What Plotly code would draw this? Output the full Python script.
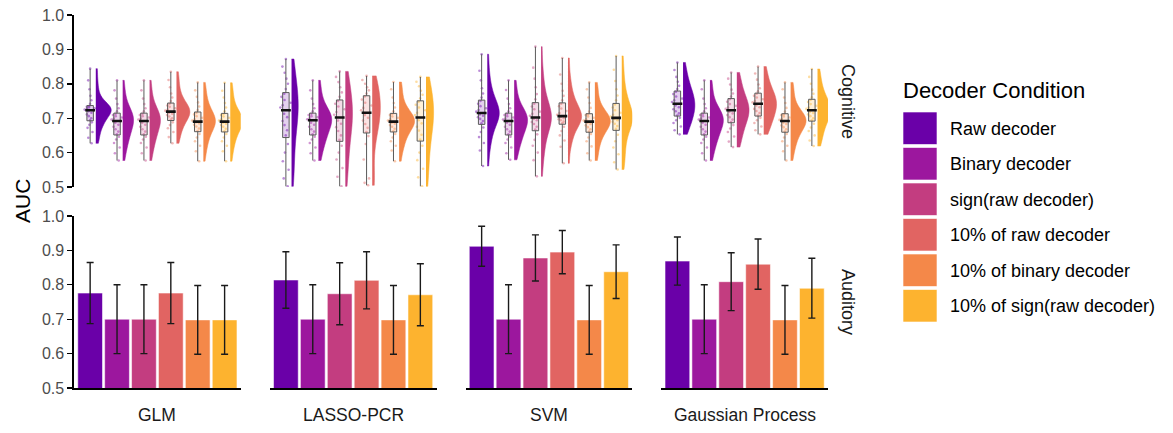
import numpy as np
import plotly.graph_objects as go
from plotly.subplots import make_subplots

# ---------------- data ----------------
models = ["GLM", "LASSO-PCR", "SVM", "Gaussian Process"]
conditions = ["Raw decoder", "Binary decoder", "sign(raw decoder)",
              "10% of raw decoder", "10% of binary decoder", "10% of sign(raw decoder)"]
rows_lab = ["Cognitive", "Auditory"]
y_ticks = [0.5, 0.6, 0.7, 0.8, 0.9, 1.0]

# Auditory: mean AUC and error (symmetric) per model, in condition order
aud_mean_glm = [0.776, 0.700, 0.700, 0.776, 0.698, 0.698]
aud_err_glm = [0.089, 0.100, 0.100, 0.089, 0.100, 0.100]
aud_mean_lasso = [0.814, 0.700, 0.774, 0.813, 0.698, 0.771]
aud_err_lasso = [0.082, 0.100, 0.090, 0.083, 0.100, 0.090]
aud_mean_svm = [0.912, 0.700, 0.878, 0.895, 0.698, 0.838]
aud_err_svm = [0.058, 0.100, 0.067, 0.063, 0.100, 0.078]
aud_mean_gp = [0.869, 0.700, 0.809, 0.860, 0.698, 0.790]
aud_err_gp = [0.070, 0.100, 0.084, 0.073, 0.100, 0.087]

# Cognitive: per-subject AUC samples (estimated from the figure), per model, in condition order
cog_glm = [
    [0.627, 0.643, 0.660, 0.672, 0.681, 0.688, 0.694, 0.700, 0.706, 0.711, 0.716, 0.720, 0.723,
     0.725, 0.727, 0.729, 0.731, 0.733, 0.735, 0.742, 0.752, 0.765, 0.784, 0.810, 0.844],
    [0.577, 0.598, 0.615, 0.628, 0.638, 0.646, 0.653, 0.661, 0.668, 0.675, 0.681, 0.687, 0.692,
     0.696, 0.699, 0.702, 0.706, 0.709, 0.713, 0.720, 0.729, 0.741, 0.757, 0.781, 0.810],
    [0.577, 0.598, 0.615, 0.628, 0.638, 0.646, 0.653, 0.661, 0.668, 0.675, 0.681, 0.687, 0.692,
     0.696, 0.699, 0.702, 0.706, 0.709, 0.713, 0.720, 0.729, 0.741, 0.757, 0.781, 0.810],
    [0.627, 0.645, 0.660, 0.671, 0.680, 0.688, 0.695, 0.700, 0.705, 0.709, 0.713, 0.716, 0.719,
     0.722, 0.725, 0.729, 0.733, 0.737, 0.742, 0.750, 0.760, 0.772, 0.790, 0.811, 0.835],
    [0.575, 0.604, 0.620, 0.633, 0.644, 0.654, 0.663, 0.670, 0.676, 0.681, 0.685, 0.688, 0.690,
     0.693, 0.697, 0.701, 0.706, 0.711, 0.716, 0.724, 0.734, 0.746, 0.762, 0.781, 0.804],
    [0.575, 0.604, 0.620, 0.633, 0.644, 0.654, 0.662, 0.669, 0.675, 0.680, 0.684, 0.687, 0.690,
     0.693, 0.697, 0.701, 0.705, 0.709, 0.712, 0.720, 0.731, 0.744, 0.760, 0.780, 0.803],
]
cog_lasso = [
    [0.502, 0.525, 0.550, 0.575, 0.600, 0.625, 0.650, 0.665, 0.680, 0.692, 0.703, 0.713, 0.723,
     0.731, 0.738, 0.745, 0.753, 0.762, 0.771, 0.785, 0.800, 0.815, 0.832, 0.850, 0.872],
    [0.577, 0.598, 0.615, 0.628, 0.638, 0.646, 0.653, 0.661, 0.668, 0.675, 0.681, 0.687, 0.694,
     0.697, 0.700, 0.703, 0.706, 0.709, 0.713, 0.720, 0.729, 0.741, 0.757, 0.781, 0.810],
    [0.502, 0.530, 0.555, 0.580, 0.600, 0.620, 0.637, 0.650, 0.663, 0.674, 0.684, 0.693, 0.702,
     0.710, 0.718, 0.726, 0.734, 0.742, 0.750, 0.762, 0.775, 0.790, 0.805, 0.820, 0.836],
    [0.505, 0.512, 0.525, 0.580, 0.625, 0.648, 0.660, 0.672, 0.683, 0.693, 0.701, 0.709, 0.716,
     0.723, 0.730, 0.737, 0.745, 0.754, 0.763, 0.772, 0.781, 0.790, 0.800, 0.811, 0.823],
    [0.575, 0.606, 0.620, 0.633, 0.644, 0.654, 0.662, 0.669, 0.675, 0.680, 0.684, 0.687, 0.690,
     0.693, 0.697, 0.701, 0.705, 0.709, 0.712, 0.720, 0.731, 0.744, 0.760, 0.784, 0.805],
    [0.502, 0.528, 0.553, 0.578, 0.600, 0.620, 0.638, 0.652, 0.664, 0.675, 0.685, 0.694, 0.702,
     0.709, 0.716, 0.723, 0.731, 0.739, 0.748, 0.758, 0.768, 0.780, 0.793, 0.806, 0.820],
]
cog_svm = [
    [0.561, 0.606, 0.628, 0.645, 0.660, 0.673, 0.685, 0.692, 0.698, 0.703, 0.707, 0.711, 0.715,
     0.719, 0.724, 0.729, 0.735, 0.742, 0.750, 0.760, 0.772, 0.787, 0.810, 0.838, 0.886],
    [0.579, 0.598, 0.615, 0.628, 0.638, 0.646, 0.653, 0.661, 0.668, 0.675, 0.681, 0.687, 0.692,
     0.696, 0.699, 0.702, 0.706, 0.709, 0.713, 0.720, 0.729, 0.741, 0.757, 0.782, 0.810],
    [0.531, 0.578, 0.600, 0.620, 0.637, 0.653, 0.667, 0.675, 0.683, 0.689, 0.694, 0.698, 0.702,
     0.707, 0.713, 0.719, 0.726, 0.734, 0.742, 0.755, 0.770, 0.790, 0.815, 0.847, 0.908],
    [0.569, 0.617, 0.635, 0.650, 0.663, 0.675, 0.685, 0.690, 0.694, 0.697, 0.700, 0.703, 0.706,
     0.710, 0.715, 0.721, 0.728, 0.735, 0.742, 0.752, 0.765, 0.780, 0.800, 0.827, 0.875],
    [0.577, 0.598, 0.618, 0.633, 0.644, 0.654, 0.661, 0.668, 0.674, 0.679, 0.683, 0.687, 0.690,
     0.693, 0.697, 0.701, 0.705, 0.709, 0.711, 0.719, 0.730, 0.744, 0.760, 0.784, 0.804],
    [0.551, 0.572, 0.595, 0.615, 0.633, 0.652, 0.669, 0.677, 0.684, 0.690, 0.694, 0.698, 0.701,
     0.705, 0.710, 0.716, 0.723, 0.731, 0.740, 0.752, 0.766, 0.784, 0.808, 0.841, 0.881],
]
cog_gp = [
    [0.653, 0.665, 0.676, 0.686, 0.694, 0.701, 0.708, 0.714, 0.720, 0.726, 0.732, 0.737, 0.742,
     0.747, 0.752, 0.757, 0.763, 0.770, 0.777, 0.785, 0.794, 0.806, 0.820, 0.840, 0.862],
    [0.577, 0.598, 0.615, 0.628, 0.638, 0.646, 0.653, 0.661, 0.668, 0.675, 0.681, 0.687, 0.692,
     0.696, 0.699, 0.702, 0.706, 0.709, 0.713, 0.720, 0.729, 0.741, 0.757, 0.784, 0.810],
    [0.616, 0.632, 0.647, 0.660, 0.670, 0.680, 0.689, 0.696, 0.703, 0.709, 0.714, 0.719, 0.723,
     0.727, 0.731, 0.736, 0.741, 0.748, 0.755, 0.763, 0.772, 0.783, 0.798, 0.815, 0.833],
    [0.653, 0.665, 0.676, 0.686, 0.694, 0.701, 0.708, 0.715, 0.721, 0.727, 0.732, 0.737, 0.742,
     0.746, 0.750, 0.755, 0.760, 0.765, 0.771, 0.778, 0.787, 0.798, 0.812, 0.830, 0.850],
    [0.577, 0.604, 0.620, 0.633, 0.644, 0.654, 0.661, 0.668, 0.674, 0.679, 0.683, 0.687, 0.692,
     0.695, 0.698, 0.702, 0.705, 0.709, 0.711, 0.719, 0.730, 0.744, 0.760, 0.784, 0.804],
    [0.619, 0.635, 0.650, 0.663, 0.673, 0.684, 0.694, 0.700, 0.706, 0.711, 0.715, 0.719, 0.723,
     0.727, 0.731, 0.736, 0.741, 0.747, 0.753, 0.761, 0.771, 0.783, 0.800, 0.820, 0.843],
]

# ---------------- style ----------------
colors = ["#6A00A8", "#9C179E", "#C33D80", "#E16462", "#F48849", "#FDB32F"]
FONT = "Liberation Sans, Arial, sans-serif"
W, H = 1173, 433
L, R, T, B = 74, 345, 15, 45
PW, PH = W - L - R, H - T - B


def px2x(px):
    return (px - L) / PW


def px2y(py):
    return (T + PH - py) / PH


def rgba(hexc, a):
    h = hexc.lstrip("#")
    return f"rgba({int(h[0:2],16)},{int(h[2:4],16)},{int(h[4:6],16)},{a})"


def kde_peak(vals):
    v = np.asarray(vals, dtype=float)
    n = len(v)
    q1, q3 = np.percentile(v, [25, 75])
    bw = 1.059 * min(v.std(ddof=1), (q3 - q1) / 1.349) * n ** (-0.2)
    grid = np.linspace(v.min(), v.max(), 300)
    dens = np.exp(-0.5 * ((grid[:, None] - v[None, :]) / bw) ** 2).sum(axis=1) / (n * bw)
    return dens.max()


cog_all = [cog_glm, cog_lasso, cog_svm, cog_gp]
aud_means = [aud_mean_glm, aud_mean_lasso, aud_mean_svm, aud_mean_gp]
aud_errs = [aud_err_glm, aud_err_lasso, aud_err_svm, aud_err_gp]

fig = make_subplots(rows=2, cols=4, shared_yaxes=True,
                    horizontal_spacing=29 / PW, vertical_spacing=29 / PH)

positions = list(range(1, len(conditions) + 1))
VMAX = 1.15   # full violin width for the densest group in a panel

for j, model in enumerate(models):
    col = j + 1
    groups = cog_all[j]
    peaks = [kde_peak(g) for g in groups]
    pmax = max(peaks)
    for i, (cond, vals) in enumerate(zip(conditions, groups)):
        pos = positions[i]
        n = len(vals)
        c = colors[i]
        # half violin (cloud)
        fig.add_trace(go.Violin(
            x=[pos + 0.21] * n, y=vals, side="positive", spanmode="hard",
            width=VMAX * peaks[i] / pmax, points=False,
            fillcolor=c, line=dict(color=c, width=0.5), opacity=1,
            box_visible=False, meanline_visible=False, showlegend=False,
            hoverinfo="skip", name=cond), row=1, col=col)
        # rain (jittered points)
        fig.add_trace(go.Box(
            x=[pos] * n, y=vals, boxpoints="all", jitter=1, pointpos=0, width=0.42,
            fillcolor="rgba(0,0,0,0)", line=dict(color="rgba(0,0,0,0)", width=0),
            marker=dict(color=c, size=2.6, opacity=0.45), showlegend=False,
            hoverinfo="skip", name=cond), row=1, col=col)
        # boxplot
        fig.add_trace(go.Box(
            x=[pos] * n, y=vals, boxpoints=False, width=0.24, whiskerwidth=0,
            fillcolor=rgba(c, 0.18), line=dict(color="#5a5a5a", width=1),
            showlegend=False, hoverinfo="skip", name=cond), row=1, col=col)
        # median bar
        fig.add_trace(go.Scatter(
            x=[pos], y=[float(np.median(vals))], mode="markers",
            marker=dict(symbol="line-ew", size=7, line=dict(color="#111", width=2.6)),
            showlegend=False, hoverinfo="skip"), row=1, col=col)

    # Auditory bars
    fig.add_trace(go.Bar(
        x=positions, y=aud_means[j], width=0.92,
        marker=dict(color=colors, line=dict(color="rgba(255,255,255,0.55)", width=1)),
        error_y=dict(type="data", array=aud_errs[j], color="#1a1a1a", thickness=1.4, width=3.5),
        showlegend=False, hoverinfo="skip"), row=2, col=col)

# axes
for r in (1, 2):
    for c in range(1, 5):
        fig.update_xaxes(range=[0.4, 6.6], showticklabels=False, ticks="", showgrid=False,
                         zeroline=False, showline=(r == 2), linecolor="black", linewidth=1.6,
                         automargin=False, row=r, col=c)
        fig.update_yaxes(range=[0.5, 1.0], showgrid=False, zeroline=False,
                         tickvals=y_ticks, tickformat=".1f",
                         showline=(c == 1), linecolor="black", linewidth=1.6,
                         ticks="outside" if c == 1 else "", ticklen=5, tickwidth=1.4,
                         tickcolor="black", showticklabels=(c == 1),
                         tickfont=dict(family=FONT, size=16, color="#4D4D4D"),
                         automargin=False, row=r, col=c)

ann = []
for j, model in enumerate(models):
    ann.append(dict(text=model, xref=f"x{5 + j} domain", x=0.5, yref="paper", y=px2y(415),
                    xanchor="center", yanchor="middle", showarrow=False,
                    font=dict(family=FONT, size=17.5, color="#1A1A1A")))
for r, lab in enumerate(rows_lab):
    ann.append(dict(text=lab, xref="paper", x=px2x(848), yref=f"y{4 + 4 * r} domain", y=0.5,
                    xanchor="center", yanchor="middle", textangle=90, showarrow=False,
                    font=dict(family=FONT, size=18, color="#1A1A1A")))
ann.append(dict(text="AUC", xref="paper", x=px2x(22), yref="paper", y=px2y(201),
                xanchor="center", yanchor="middle", textangle=-90, showarrow=False,
                font=dict(family=FONT, size=21, color="black")))

# manual legend
shapes = []
ann.append(dict(text="Decoder Condition", xref="paper", x=px2x(901), yref="paper", y=px2y(90),
                xanchor="left", yanchor="middle", showarrow=False,
                font=dict(family=FONT, size=22, color="black")))
for i, cond in enumerate(conditions):
    top = 112 + i * 35.5
    shapes.append(dict(type="rect", xref="paper", yref="paper",
                       x0=px2x(903), x1=px2x(937), y0=px2y(top), y1=px2y(top + 32.5),
                       fillcolor=colors[i], line=dict(color="rgba(255,255,255,0.6)", width=1)))
    ann.append(dict(text=cond, xref="paper", x=px2x(948), yref="paper", y=px2y(top + 16.5),
                    xanchor="left", yanchor="middle", showarrow=False,
                    font=dict(family=FONT, size=18, color="black")))

fig.update_layout(width=W, height=H, margin=dict(l=L, r=R, t=T, b=B, autoexpand=False),
                  paper_bgcolor="white", plot_bgcolor="white",
                  violinmode="overlay", boxmode="overlay", barmode="overlay",
                  showlegend=False, annotations=ann, shapes=shapes,
                  font=dict(family=FONT))

fig.write_html("out.html", config={"displayModeBar": False, "staticPlot": True},
               post_script="document.body.style.margin='0';document.body.style.padding='0';"
                           "document.documentElement.style.overflow='hidden';"
                           "document.body.style.overflow='hidden';")
